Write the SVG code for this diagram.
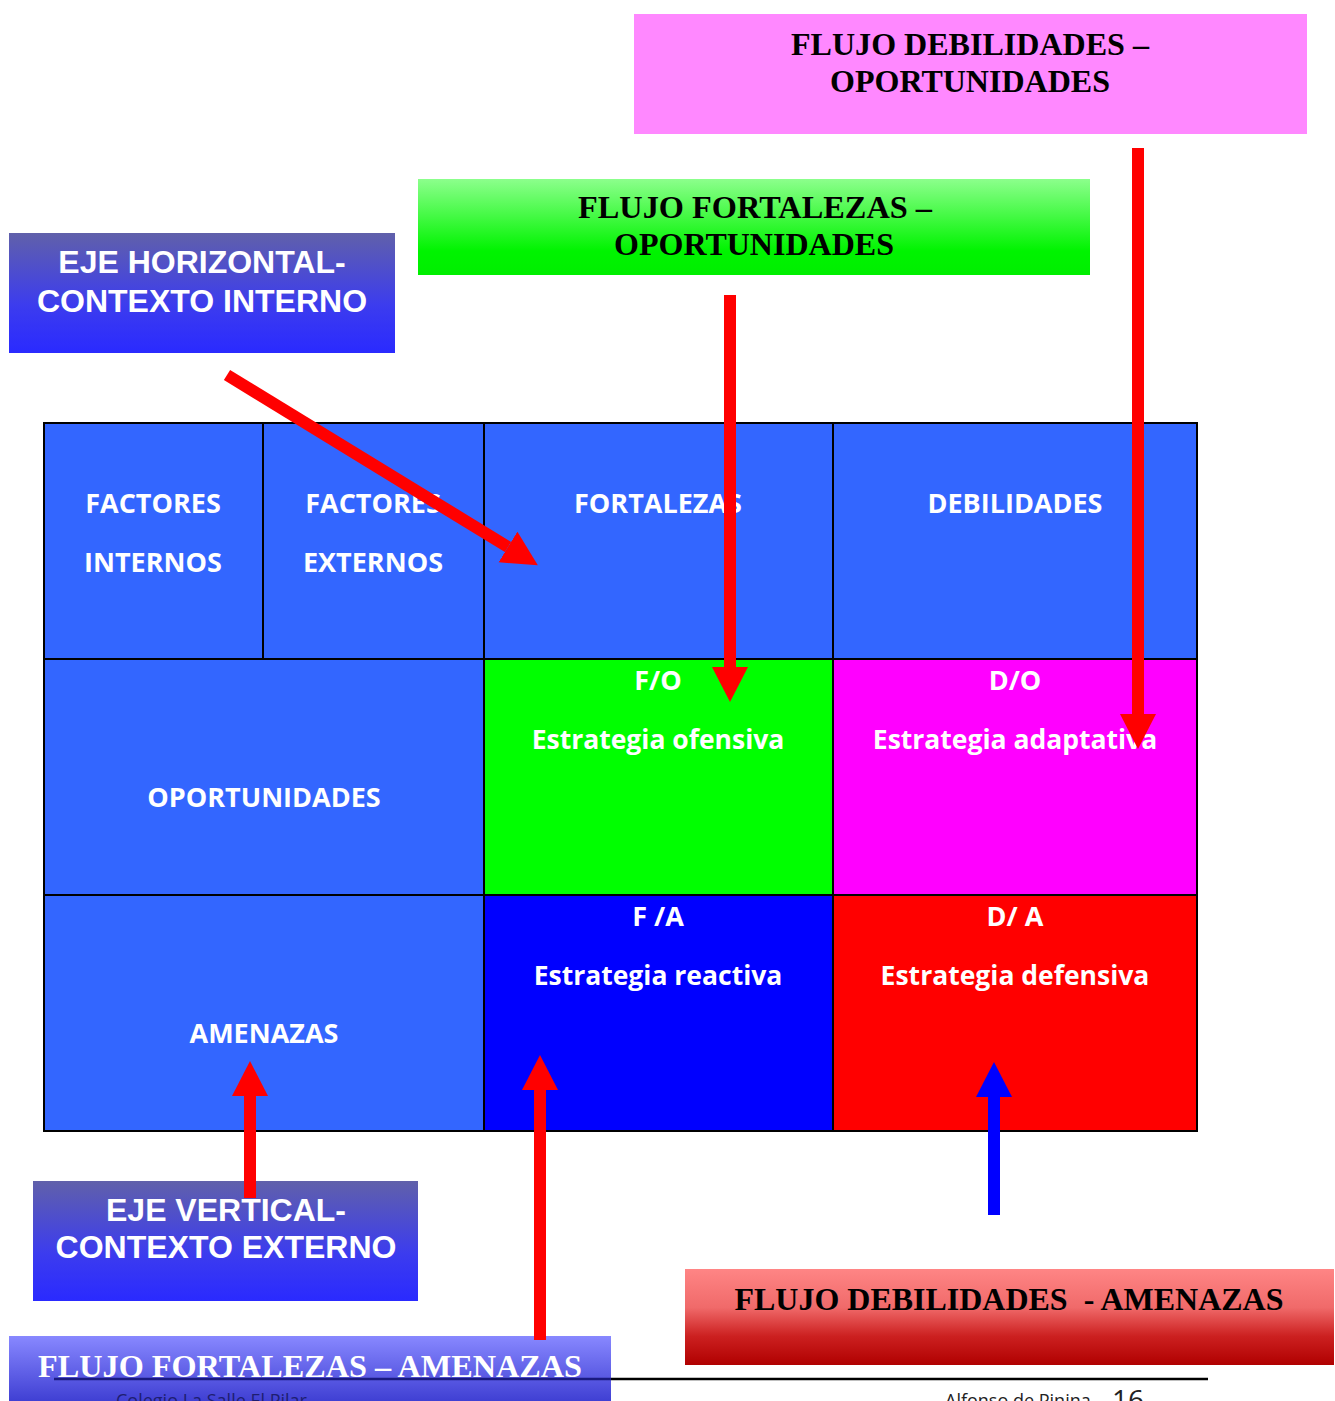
<svg xmlns="http://www.w3.org/2000/svg" width="1335" height="1401" viewBox="0 0 1335 1401">
  <defs>
    <linearGradient id="gGreen" x1="0" y1="0" x2="0" y2="1">
      <stop offset="0" stop-color="#8cff8c"/>
      <stop offset="0.75" stop-color="#00f400"/>
      <stop offset="1" stop-color="#00ee00"/>
    </linearGradient>
    <linearGradient id="gAxis" x1="0" y1="0" x2="0" y2="1">
      <stop offset="0" stop-color="#6060aa"/>
      <stop offset="0.6" stop-color="#3c3cee"/>
      <stop offset="1" stop-color="#2a2aff"/>
    </linearGradient>
    <linearGradient id="gRed" x1="0" y1="0" x2="0" y2="1">
      <stop offset="0" stop-color="#ff8585"/>
      <stop offset="0.4" stop-color="#f06a6a"/>
      <stop offset="0.7" stop-color="#cc2020"/>
      <stop offset="1" stop-color="#b00000"/>
    </linearGradient>
    <linearGradient id="gViolet" x1="0" y1="0" x2="0" y2="1">
      <stop offset="0" stop-color="#8888ff"/>
      <stop offset="1" stop-color="#3a3ad0"/>
    </linearGradient>
    <marker id="headRed" markerUnits="userSpaceOnUse" markerWidth="40" markerHeight="40" refX="0" refY="18" orient="auto">
      <path d="M0,0 L35,18 L0,36 Z" fill="#ff0000"/>
    </marker>
    <marker id="headBlue" markerUnits="userSpaceOnUse" markerWidth="40" markerHeight="40" refX="0" refY="18" orient="auto">
      <path d="M0,0 L35,18 L0,36 Z" fill="#0000ff"/>
    </marker>
    <style>
      .cell { stroke: #000; stroke-width: 2; }
      .ct { font-family: "Open Sans", "DejaVu Sans", sans-serif; font-weight: bold; font-size: 27px; fill: #fff; text-anchor: middle; }
      .ct2 { font-size: 26.5px; }
      .flow { font-family: "Liberation Serif", "Times New Roman", serif; font-weight: bold; font-size: 31px; fill: #000; text-anchor: middle; }
      .flowW { font-family: "Liberation Serif", "Times New Roman", serif; font-weight: bold; font-size: 31px; fill: #fff; text-anchor: middle; }
      .axis { font-family: "Liberation Sans", Arial, sans-serif; font-weight: bold; font-size: 32px; fill: #fff; text-anchor: middle; }
      .foot { font-family: "Open Sans", "Liberation Sans", sans-serif; font-size: 18px; }
      .pageno { font-size: 28px; }
      .shaft { stroke: #ff0000; stroke-width: 12; fill: none; marker-end: url(#headRed); }
    </style>
  </defs>

  <!-- SWOT matrix -->
  <g id="matrix">
    <g id="cell-factores-internos">
      <rect class="cell" x="44" y="423" width="219" height="236" fill="#3366ff"/>
      <text class="ct" x="153" y="513">FACTORES</text>
      <text class="ct" x="153" y="572">INTERNOS</text>
    </g>
    <g id="cell-factores-externos">
      <rect class="cell" x="263" y="423" width="221" height="236" fill="#3366ff"/>
      <text class="ct" x="373" y="513">FACTORES</text>
      <text class="ct" x="373" y="572">EXTERNOS</text>
    </g>
    <g id="cell-fortalezas">
      <rect class="cell" x="484" y="423" width="349" height="236" fill="#3366ff"/>
      <text class="ct" x="658" y="513">FORTALEZAS</text>
    </g>
    <g id="cell-debilidades">
      <rect class="cell" x="833" y="423" width="364" height="236" fill="#3366ff"/>
      <text class="ct" x="1015" y="513">DEBILIDADES</text>
    </g>
    <g id="cell-oportunidades">
      <rect class="cell" x="44" y="659" width="440" height="236" fill="#3366ff"/>
      <text class="ct" x="264" y="807">OPORTUNIDADES</text>
    </g>
    <g id="cell-fo">
      <rect class="cell" x="484" y="659" width="349" height="236" fill="#00ff00"/>
      <text class="ct" x="658" y="690">F/O</text>
      <text class="ct ct2" x="658" y="749">Estrategia ofensiva</text>
    </g>
    <g id="cell-do">
      <rect class="cell" x="833" y="659" width="364" height="236" fill="#ff00ff"/>
      <text class="ct" x="1015" y="690">D/O</text>
      <text class="ct ct2" x="1015" y="749">Estrategia adaptativa</text>
    </g>
    <g id="cell-amenazas">
      <rect class="cell" x="44" y="895" width="440" height="236" fill="#3366ff"/>
      <text class="ct" x="264" y="1043">AMENAZAS</text>
    </g>
    <g id="cell-fa">
      <rect class="cell" x="484" y="895" width="349" height="236" fill="#0000ff"/>
      <text class="ct" x="658" y="926">F /A</text>
      <text class="ct ct2" x="658" y="985">Estrategia reactiva</text>
    </g>
    <g id="cell-da">
      <rect class="cell" x="833" y="895" width="364" height="236" fill="#ff0000"/>
      <text class="ct" x="1015" y="926">D/ A</text>
      <text class="ct ct2" x="1015" y="985">Estrategia defensiva</text>
    </g>
  </g>

  <!-- Flow labels -->
  <g id="flujo-do">
    <rect x="634" y="14" width="673" height="120" fill="#ff88ff"/>
    <text class="flow" x="970" y="55" textLength="358" lengthAdjust="spacingAndGlyphs">FLUJO DEBILIDADES –</text>
    <text class="flow" x="970" y="92" textLength="280" lengthAdjust="spacingAndGlyphs">OPORTUNIDADES</text>
  </g>
  <g id="flujo-fo">
    <rect x="418" y="179" width="672" height="96" fill="url(#gGreen)"/>
    <text class="flow" x="755" y="218" textLength="354" lengthAdjust="spacingAndGlyphs">FLUJO FORTALEZAS –</text>
    <text class="flow" x="754" y="255" textLength="280" lengthAdjust="spacingAndGlyphs">OPORTUNIDADES</text>
  </g>
  <g id="eje-horizontal">
    <rect x="9" y="233" width="386" height="120" fill="url(#gAxis)"/>
    <text class="axis" x="202" y="273">EJE HORIZONTAL-</text>
    <text class="axis" x="202" y="312">CONTEXTO INTERNO</text>
  </g>
  <g id="eje-vertical">
    <rect x="33" y="1181" width="385" height="120" fill="url(#gAxis)"/>
    <text class="axis" x="226" y="1221">EJE VERTICAL-</text>
    <text class="axis" x="226" y="1258">CONTEXTO EXTERNO</text>
  </g>
  <g id="flujo-da">
    <rect x="685" y="1269" width="649" height="96" fill="url(#gRed)"/>
    <text class="flow" x="1009" y="1310" textLength="549" lengthAdjust="spacingAndGlyphs" xml:space="preserve">FLUJO DEBILIDADES  - AMENAZAS</text>
  </g>

  <!-- Page footer rule and text (runs past the bottom edge of the page) -->
  <g id="footer">
    <line x1="611" y1="1379" x2="1208" y2="1379" stroke="#000" stroke-width="2.5"/>
    <text class="foot" x="945" y="1407" fill="#222">Alfonso de Pinina</text>
    <text class="foot pageno" x="1112" y="1410" fill="#222">16</text>
  </g>

  <g id="flujo-fa">
    <rect x="9" y="1336" width="602" height="70" fill="url(#gViolet)"/>
    <line x1="54" y1="1379" x2="611" y2="1379" stroke="#1a1a80" stroke-width="2.5"/>
    <text class="flowW" x="310" y="1377" textLength="544" lengthAdjust="spacingAndGlyphs">FLUJO FORTALEZAS – AMENAZAS</text>
    <text class="foot" x="116" y="1407" fill="#1e1e70">Colegio La Salle El Pilar</text>
  </g>

  <!-- Connectors -->
  <g id="connectors">
    <line class="shaft" x1="227" y1="375" x2="508" y2="547" stroke-width="14"/>
    <line class="shaft" x1="730" y1="295" x2="730" y2="667"/>
    <line class="shaft" x1="1138" y1="148" x2="1138" y2="714"/>
    <line class="shaft" x1="250" y1="1198" x2="250" y2="1096"/>
    <line class="shaft" x1="540" y1="1340" x2="540" y2="1090"/>
    <line x1="994" y1="1215" x2="994" y2="1097" stroke="#0000ff" stroke-width="12" marker-end="url(#headBlue)"/>
  </g>
</svg>
